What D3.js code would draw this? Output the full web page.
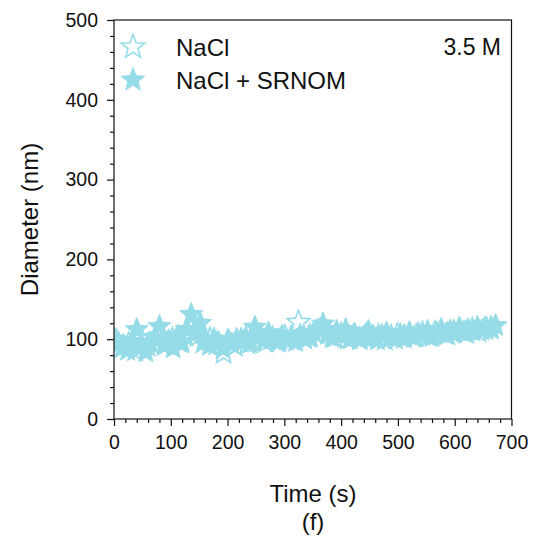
<!DOCTYPE html>
<html>
<head>
<meta charset="utf-8">
<script src="https://cdn.jsdelivr.net/npm/d3@7"></script>
<style>
  html, body { margin: 0; padding: 0; background: #fff; }
  svg { display: block; }
  text { font-family: Arial, "Liberation Sans", Helvetica, sans-serif; fill: #111; }
</style>
</head>
<body>
<svg id="chart" width="533" height="541"></svg>
<script>
// ---- data ----
const seriesNames = ["NaCl", "NaCl + SRNOM"];
const annotation = "3.5 M";
const xTicks = [0, 100, 200, 300, 400, 500, 600, 700];
const yTicks = [0, 100, 200, 300, 400, 500];

// NaCl + SRNOM (filled stars)
const timeSRNOM = [0,8,16,24,32,40,48,56,64,72,80,88,96,104,112,120,128,136,144,152,160,168,176,184,192,200,208,216,224,232,240,248,256,264,272,280,288,296,304,312,320,328,336,344,352,360,368,376,384,392,400,408,416,424,432,440,448,456,464,472,480,488,496,504,512,520,528,536,544,552,560,568,576,584,592,600,608,616,624,632,640,648,656,664,672];
const diamSRNOM = [100,95,92,86,97,112,90,84,95,102,116,92,98,89,104,95,112,131,108,120,98,92,100,96,88,98,94,100,96,102,95,115,103,98,108,100,96,104,99,103,97,105,100,102,108,112,119,106,102,110,104,112,100,106,101,103,110,104,99,105,108,103,100,106,104,108,102,107,105,110,103,108,112,106,110,108,114,109,112,110,115,111,114,113,117];

// NaCl (hollow stars)
const timeNaCl = [4,15,26,37,48,59,70,81,92,103,114,125,136,147,158,169,180,193,202,213,224,235,246,257,268,279,290,301,312,325,334,345,356,367,378,389,400,411,422,433,444,455,466,477,488,499,510,521,532,543,554,565,576,587,598,609,620,631,642,653,664];
const diamNaCl = [98,90,94,86,100,92,96,104,94,100,97,105,110,104,96,100,94,83,97,92,99,95,100,104,97,101,98,103,100,121,102,104,108,112,107,103,106,101,104,100,105,102,104,100,103,105,102,106,104,107,104,108,110,106,109,111,108,112,110,113,114];

// ---- layout ----
const svg = d3.select("#chart");
const x = d3.scaleLinear().domain([0, 700]).range([114, 511.5]);
const y = d3.scaleLinear().domain([0, 500]).range([419, 20]);
const starColor = "#96dce8";

function starPath(R, r) {
  const pts = [];
  for (let i = 0; i < 10; i++) {
    const a = -Math.PI / 2 + i * Math.PI / 5;
    const rad = i % 2 === 0 ? R : r;
    pts.push([rad * Math.cos(a), rad * Math.sin(a)]);
  }
  return "M" + pts.map(p => p[0].toFixed(2) + "," + p[1].toFixed(2)).join("L") + "Z";
}
const star = starPath(12, 5.3);

// clip
svg.append("defs").append("clipPath").attr("id", "clip")
  .append("rect").attr("x", x(0)).attr("y", y(500)).attr("width", x(700) - x(0)).attr("height", y(0) - y(500));

const plot = svg.append("g").attr("clip-path", "url(#clip)");

const srnom = timeSRNOM.map((t, i) => ({ t, d: diamSRNOM[i] }));
const nacl = timeNaCl.map((t, i) => ({ t, d: diamNaCl[i] }));

plot.selectAll("path.srnom").data(srnom).enter().append("path")
  .attr("class", "srnom")
  .attr("d", star)
  .attr("transform", d => `translate(${x(d.t)},${y(d.d)})`)
  .attr("fill", starColor).attr("stroke", starColor).attr("stroke-width", 1);

plot.selectAll("path.nacl").data(nacl).enter().append("path")
  .attr("class", "nacl")
  .attr("d", star)
  .attr("transform", d => `translate(${x(d.t)},${y(d.d)})`)
  .attr("fill", "none").attr("stroke", starColor).attr("stroke-width", 1.6);

// frame
svg.append("rect")
  .attr("x", x(0)).attr("y", y(500))
  .attr("width", x(700) - x(0)).attr("height", y(0) - y(500))
  .attr("fill", "none").attr("stroke", "#111").attr("stroke-width", 1.2);

// axes
const xMinor = d3.range(0, 701, 20).filter(v => v % 100 !== 0);
const yMinor = d3.range(0, 501, 20).filter(v => v % 100 !== 0);

const gx = svg.append("g").attr("transform", `translate(0,${y(0)})`);
gx.call(d3.axisBottom(x).tickValues(xTicks).tickSize(7).tickPadding(9).tickFormat(d3.format("d")));
const gxm = svg.append("g").attr("transform", `translate(0,${y(0)})`);
gxm.call(d3.axisBottom(x).tickValues(xMinor).tickSize(4).tickFormat(""));

const gy = svg.append("g").attr("transform", `translate(${x(0)},0)`);
gy.call(d3.axisLeft(y).tickValues(yTicks).tickSize(7).tickPadding(9).tickFormat(d3.format("d")));
const gym = svg.append("g").attr("transform", `translate(${x(0)},0)`);
gym.call(d3.axisLeft(y).tickValues(yMinor).tickSize(4).tickFormat(""));

[gx, gxm, gy, gym].forEach(g => {
  g.select(".domain").remove();
  g.selectAll(".tick line").attr("stroke", "#111").attr("stroke-width", 1.2);
  g.selectAll(".tick text").attr("font-size", 19.5).attr("fill", "#111")
    .style("font-family", "Arial, 'Liberation Sans', sans-serif");
});

// axis titles
svg.append("text").attr("x", 313).attr("y", 502).attr("text-anchor", "middle")
  .attr("font-size", 24).text("Time (s)");
svg.append("text").attr("x", 313).attr("y", 530).attr("text-anchor", "middle")
  .attr("font-size", 24).text("(f)");
svg.append("text").attr("transform", `translate(38,${(y(0) + y(500)) / 2}) rotate(-90)`)
  .attr("text-anchor", "middle").attr("font-size", 24).text("Diameter (nm)");

// annotation
svg.append("text").attr("x", 501).attr("y", 55).attr("text-anchor", "end")
  .attr("font-size", 23).text(annotation);

// legend
const legend = svg.append("g");
const legendItems = [
  { name: seriesNames[0], fill: "none", sw: 1.6, cy: 47 },
  { name: seriesNames[1], fill: starColor, sw: 1, cy: 80 }
];
legendItems.forEach(it => {
  legend.append("path").attr("d", starPath(12.5, 5.3))
    .attr("transform", `translate(133,${it.cy})`)
    .attr("fill", it.fill).attr("stroke", starColor).attr("stroke-width", it.sw);
  legend.append("text").attr("x", 176).attr("y", it.cy + 9)
    .attr("font-size", 24).text(it.name);
});
</script>
</body>
</html>
